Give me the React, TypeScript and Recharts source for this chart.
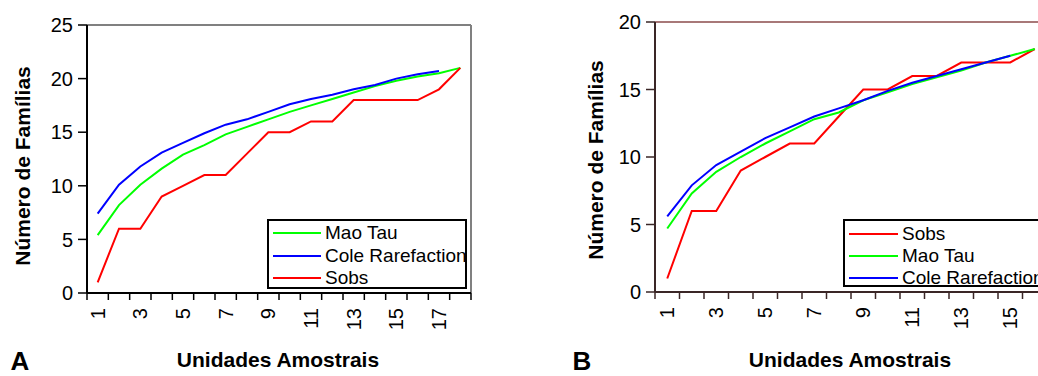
import React from 'react';
import { LineChart, Line, XAxis, YAxis, ReferenceLine } from 'recharts';

// ---------- Data: chart A ----------
const unitsA = [1, 2, 3, 4, 5, 6, 7, 8, 9, 10, 11, 12, 13, 14, 15, 16, 17, 18];
const sobsA = [1, 6, 6, 9, 10, 11, 11, 13, 15, 15, 16, 16, 18, 18, 18, 18, 19, 21];
const maoTauA = [5.4, 8.2, 10.1, 11.6, 12.9, 13.8, 14.8, 15.5, 16.2, 16.9, 17.5, 18.1, 18.7, 19.3, 19.8, 20.2, 20.5, 21];
const coleA = [7.4, 10.1, 11.8, 13.1, 14, 14.9, 15.7, 16.2, 16.9, 17.6, 18.1, 18.5, 19, 19.4, 20, 20.4, 20.7, null];
const xLabelsA = [1, 3, 5, 7, 9, 11, 13, 15, 17];
const yTicksA = [0, 5, 10, 15, 20, 25];

// ---------- Data: chart B ----------
const unitsB = [1, 2, 3, 4, 5, 6, 7, 8, 9, 10, 11, 12, 13, 14, 15, 16];
const sobsB = [1, 6, 6, 9, 10, 11, 11, 13, 15, 15, 16, 16, 17, 17, 17, 18];
const maoTauB = [4.7, 7.3, 8.9, 10, 11, 11.9, 12.8, 13.3, 14.2, 14.8, 15.4, 15.9, 16.4, 17, 17.5, 18];
const coleB = [5.6, 7.9, 9.4, 10.4, 11.4, 12.2, 13, 13.6, 14.2, 14.9, 15.5, 16, 16.5, 17, 17.5, null];
const xLabelsB = [1, 3, 5, 7, 9, 11, 13, 15];
const yTicksB = [0, 5, 10, 15, 20];

// ---------- Texts ----------
const yTitle = 'Número de Famílias';
const xTitle = 'Unidades Amostrais';
const panelA = 'A';
const panelB = 'B';

const seriesA = [
  { key: 'maoTau', name: 'Mao Tau', color: '#00FF00' },
  { key: 'cole', name: 'Cole Rarefaction', color: '#0000FF' },
  { key: 'sobs', name: 'Sobs', color: '#FF0000' },
];
const seriesB = [
  { key: 'sobs', name: 'Sobs', color: '#FF0000' },
  { key: 'maoTau', name: 'Mao Tau', color: '#00FF00' },
  { key: 'cole', name: 'Cole Rarefaction', color: '#0000FF' },
];

const FONT = '"Liberation Sans", Arial, Helvetica, sans-serif';

const dataA = unitsA.map((u, i) => ({ unit: u, sobs: sobsA[i], maoTau: maoTauA[i], cole: coleA[i] }));
const dataB = unitsB.map((u, i) => ({ unit: u, sobs: sobsB[i], maoTau: maoTauB[i], cole: coleB[i] }));

function xTicksFor(units: number[], labels: number[]) {
  const bounds = [units[0] - 0.5, ...units.map((u) => u + 0.5)];
  return [...bounds, ...labels].sort((a, b) => a - b);
}

const makeXTick = (labels: number[], color: string) => (props: any) => {
  const { x, y, payload } = props;
  const v = payload.value;
  if (Math.abs(v % 1) > 0.01) {
    return <line x1={x} x2={x} y1={y} y2={y + 7} stroke={color} strokeWidth={1.5} />;
  }
  if (!labels.includes(v)) return <g />;
  const ty = y + 15;
  return (
    <text
      x={x}
      y={ty}
      transform={`rotate(-90 ${x} ${ty})`}
      textAnchor="end"
      dominantBaseline="central"
      fontSize={20}
      fontFamily={FONT}
      fill="#000"
    >
      {v}
    </text>
  );
};

function LegendBox({ series, style, lineLeft, lineLen, textLeft, rowTops }: any) {
  return (
    <div
      style={{
        position: 'absolute',
        boxSizing: 'border-box',
        border: '2px solid #000',
        background: '#fff',
        ...style,
      }}
    >
      {series.map((s: any, i: number) => (
        <div
          key={s.key}
          style={{ position: 'absolute', left: 0, top: rowTops[i] - 11, height: 22, width: 400 }}
        >
          <svg width={lineLen} height={22} style={{ position: 'absolute', left: lineLeft, top: 0 }}>
            <line x1={0} x2={lineLen} y1={11} y2={11} stroke={s.color} strokeWidth={2} />
          </svg>
          <span
            style={{
              position: 'absolute',
              left: textLeft,
              top: 0,
              lineHeight: '22px',
              fontSize: 19,
              fontFamily: FONT,
              whiteSpace: 'nowrap',
              color: '#000',
            }}
          >
            {s.name}
          </span>
        </div>
      ))}
    </div>
  );
}

function Title({ text, cx, cy, size, rotate, lh }: any) {
  return (
    <div
      style={{
        position: 'absolute',
        left: cx,
        top: cy,
        transform: `translate(-50%, -50%)${rotate ? ' rotate(-90deg)' : ''}`,
        fontFamily: FONT,
        fontWeight: 'bold',
        fontSize: size,
        lineHeight: lh || 1,
        whiteSpace: 'nowrap',
        color: '#000',
      }}
    >
      {text}
    </div>
  );
}

export default function App() {
  const axisA = '#000';
  const axisB = '#3a2626';
  return (
    <div
      style={{
        position: 'absolute',
        left: 0,
        top: 0,
        width: 1038,
        height: 376,
        overflow: 'hidden',
        background: '#fff',
      }}
    >
      {/* Chart A */}
      <div style={{ position: 'absolute', left: 0, top: 0 }}>
        <LineChart width={480} height={376} data={dataA} margin={{ top: 25, right: 9, bottom: 0, left: 0 }}>
          <XAxis
            dataKey="unit"
            type="number"
            domain={[0.5, 18.5]}
            ticks={xTicksFor(unitsA, xLabelsA)}
            interval={0}
            height={83}
            tickSize={0}
            tickMargin={0}
            tickLine={false}
            axisLine={{ stroke: axisA, strokeWidth: 2 }}
            tick={makeXTick(xLabelsA, axisA)}
          />
          <YAxis
            type="number"
            domain={[0, 25]}
            ticks={yTicksA}
            interval={0}
            width={87}
            tickSize={9}
            tickMargin={5}
            axisLine={{ stroke: axisA, strokeWidth: 2 }}
            tickLine={{ stroke: axisA, strokeWidth: 1.5 }}
            tick={{ fontSize: 20, fill: '#000', fontFamily: FONT }}
          />
          <ReferenceLine y={25} stroke="#808080" strokeWidth={2} />
          <ReferenceLine x={18.5} stroke="#808080" strokeWidth={2} />
          {seriesA.map((s) => (
            <Line
              key={s.key}
              type="linear"
              dataKey={s.key}
              name={s.name}
              stroke={s.color}
              strokeWidth={2}
              dot={false}
              activeDot={false}
              isAnimationActive={false}
            />
          ))}
        </LineChart>
      </div>

      {/* Chart B */}
      <div style={{ position: 'absolute', left: 560, top: 0 }}>
        <LineChart width={500} height={376} data={dataB} margin={{ top: 22, right: 13, bottom: 0, left: 0 }}>
          <XAxis
            dataKey="unit"
            type="number"
            domain={[0.5, 16.5]}
            ticks={xTicksFor(unitsB, xLabelsB)}
            interval={0}
            height={84}
            tickSize={0}
            tickMargin={0}
            tickLine={false}
            axisLine={{ stroke: axisB, strokeWidth: 2 }}
            tick={makeXTick(xLabelsB, axisB)}
          />
          <YAxis
            type="number"
            domain={[0, 20]}
            ticks={yTicksB}
            interval={0}
            width={95}
            tickSize={9}
            tickMargin={5}
            axisLine={{ stroke: axisB, strokeWidth: 2 }}
            tickLine={{ stroke: axisB, strokeWidth: 1.5 }}
            tick={{ fontSize: 20, fill: '#000', fontFamily: FONT }}
          />
          <ReferenceLine y={20} stroke="#a87878" strokeWidth={2} />
          {seriesB.map((s) => (
            <Line
              key={s.key}
              type="linear"
              dataKey={s.key}
              name={s.name}
              stroke={s.color}
              strokeWidth={2}
              dot={false}
              activeDot={false}
              isAnimationActive={false}
            />
          ))}
        </LineChart>
      </div>

      <LegendBox
        series={seriesA}
        style={{ left: 267, top: 219, width: 200, height: 70 }}
        lineLeft={4}
        lineLen={48}
        textLeft={56}
        rowTops={[12, 35, 57]}
      />
      <LegendBox
        series={seriesB}
        style={{ left: 843, top: 219, width: 230, height: 68 }}
        lineLeft={4}
        lineLen={49}
        textLeft={57}
        rowTops={[13, 35, 57]}
      />

      <Title text={yTitle} cx={22} cy={166} size={21} rotate />
      <Title text={xTitle} cx={278} cy={359} size={21} />
      <Title text={panelA} cx={20} cy={361} size={26} lh="20px" />

      <Title text={yTitle} cx={595} cy={160} size={21} rotate />
      <Title text={xTitle} cx={850} cy={359} size={21} />
      <Title text={panelB} cx={582} cy={361} size={26} lh="20px" />
    </div>
  );
}
